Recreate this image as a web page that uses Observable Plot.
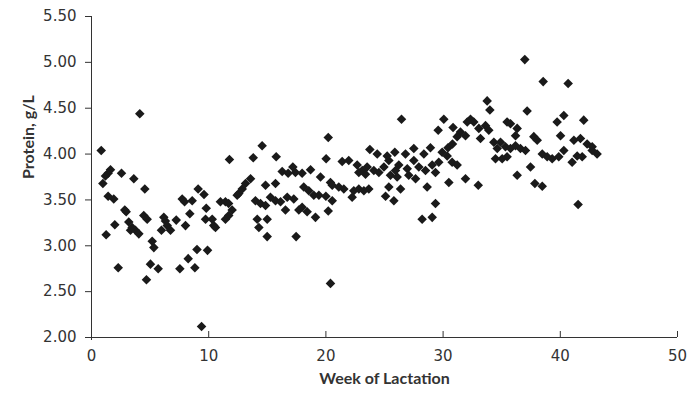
<!DOCTYPE html>
<html><head><meta charset="utf-8">
<script src="https://cdn.jsdelivr.net/npm/d3@7"></script>
<script src="https://cdn.jsdelivr.net/npm/@observablehq/plot@0.6"></script>
<style>body{margin:0;background:#fff}</style>
</head><body><div id="chart"></div>
<script>
const weeks = [
0.83,1.62,1.42,1.19,0.97,2.56,3.61,4.55,1.42,1.9,2.84,2.96,1.99,1.25,3.18,3.47,3.75,4.04,3.33,4.46,
4.75,5.18,5.32,5.97,6.17,6.31,6.46,6.74,7.23,8.02,7.74,7.94,8.59,8.39,9.1,9.6,9.79,9.73,10.3,9.0,
9.9,2.28,5.03,5.69,4.69,7.54,8.25,8.82,9.39,4.12,
14.56,11.77,13.8,15.76,20.2,20.02,16.27,17.18,16.78,17.4,17.97,18.69,19.54,20.39,13.57,13.14,12.86,12.57,14.85,15.7,
12.43,11.0,11.43,11.7,13.99,14.42,14.85,15.27,15.7,16.13,16.7,17.26,18.11,18.54,18.97,19.4,20.0,20.54,17.97,18.4,
12.0,11.71,11.43,10.43,10.58,14.14,14.99,14.28,16.55,17.69,19.11,20.2,14.99,17.46,20.39,
26.45,30.06,29.58,30.85,23.75,24.38,25.23,25.88,26.79,27.5,28.36,28.92,29.92,30.42,30.8,21.39,21.95,22.67,23.1,23.52,
24.09,24.52,24.95,25.37,25.94,26.22,26.94,27.5,27.93,28.5,29.07,29.63,30.35,30.77,22.81,23.38,25.51,26.08,27.07,27.65,
29.35,20.54,21.1,21.53,22.38,22.81,23.24,23.66,22.24,25.37,26.37,28.64,30.49,25.09,25.8,29.35,28.21,29.07,
36.97,38.54,40.67,33.76,33.99,37.17,40.3,39.73,42.0,32.34,32.62,32.06,31.48,31.91,31.2,33.05,33.62,33.9,33.19,35.46,
35.75,36.32,36.18,37.74,38.03,40.02,41.16,41.72,42.29,42.72,43.14,34.33,34.9,34.62,35.32,35.75,36.18,36.6,37.03,34.47,
35.04,35.46,38.46,38.88,39.31,39.87,40.3,41.44,41.87,41.01,31.2,37.46,42.72,31.91,33.0,36.32,37.83,38.46,41.52
];
const protein = [
4.04,3.83,3.79,3.76,3.68,3.79,3.73,3.62,3.54,3.51,3.39,3.37,3.23,3.12,3.26,3.20,3.17,3.13,3.17,3.33,
3.29,3.05,2.98,3.17,3.31,3.27,3.22,3.17,3.28,3.22,3.51,3.48,3.49,3.35,3.62,3.56,3.41,3.29,3.29,2.96,
2.95,2.76,2.80,2.75,2.63,2.75,2.86,2.76,2.12,4.44,
4.09,3.94,3.96,3.97,4.18,3.95,3.81,3.86,3.79,3.80,3.79,3.83,3.75,3.69,3.73,3.68,3.62,3.57,3.66,3.68,
3.55,3.48,3.48,3.46,3.49,3.46,3.44,3.53,3.49,3.48,3.53,3.51,3.64,3.60,3.55,3.55,3.54,3.49,3.42,3.37,
3.39,3.33,3.29,3.22,3.20,3.29,3.29,3.20,3.39,3.39,3.31,3.38,3.10,3.10,2.59,
4.38,4.38,4.26,4.29,4.05,4.00,3.98,4.02,4.00,4.06,4.00,4.07,4.02,4.07,4.11,3.92,3.93,3.88,3.82,3.86,
3.82,3.80,3.86,3.93,3.82,3.88,3.84,3.93,3.86,3.82,3.88,3.91,3.98,3.91,3.80,3.78,3.77,3.75,3.77,3.73,
3.80,3.66,3.64,3.62,3.60,3.62,3.60,3.62,3.53,3.64,3.62,3.64,3.69,3.54,3.49,3.46,3.29,3.31,
5.03,4.79,4.77,4.58,4.48,4.47,4.42,4.35,4.37,4.38,4.35,4.35,4.24,4.20,4.19,4.28,4.31,4.26,4.17,4.35,
4.33,4.28,4.20,4.19,4.15,4.20,4.15,4.17,4.11,4.08,4.00,4.13,4.13,4.06,4.08,4.06,4.09,4.06,4.04,3.95,
3.95,3.97,4.00,3.97,3.95,3.97,4.04,3.98,3.97,3.91,3.88,3.86,4.04,3.73,3.66,3.77,3.68,3.65,3.45
];
const xTicks = [0, 10, 20, 30, 40, 50];
const yTicks = [2.0, 2.5, 3.0, 3.5, 4.0, 4.5, 5.0, 5.5];
const xTitle = "Week of Lactation";
const yTitle = "Protein, g/L";

const data = weeks.map((w, i) => ({week: w, protein: protein[i]}));
const axisColor = "#333";

const chart = Plot.plot({
  width: 688,
  height: 400,
  marginLeft: 91,
  marginRight: 11,
  marginTop: 16,
  marginBottom: 63,
  style: {fontFamily: "DejaVu Sans", fontSize: "15px", color: "#333", background: "#fff", overflow: "visible"},
  x: {domain: [0, 50], ticks: xTicks, tickSize: 0, tickPadding: 13, label: null},
  y: {domain: [2, 5.5], ticks: yTicks, tickSize: 6, tickPadding: 9, tickFormat: d3.format(".2f"), label: null},
  marks: [
    Plot.tickX(xTicks.slice(1), {x: d => d, insetTop: 315, stroke: axisColor}),
    Plot.ruleX([0], {stroke: axisColor, insetBottom: -3}),
    Plot.ruleY([2], {stroke: axisColor}),
    Plot.dot(data, {x: "week", y: "protein", symbol: "diamond2", r: 4.3, fill: "#1a1a1a", stroke: "none"}),
    Plot.text([xTitle], {text: d => d, frameAnchor: "bottom", dy: 46, fontWeight: "bold", fontFamily: "Lato", fontSize: 16, fill: "#333"}),
    Plot.text([yTitle], {text: d => d, frameAnchor: "left", rotate: -90, dx: -63, dy: 2, fontWeight: "bold", fontFamily: "Lato", fontSize: 16, fill: "#333"})
  ]
});
document.getElementById("chart").appendChild(chart);
</script>
</body></html>
